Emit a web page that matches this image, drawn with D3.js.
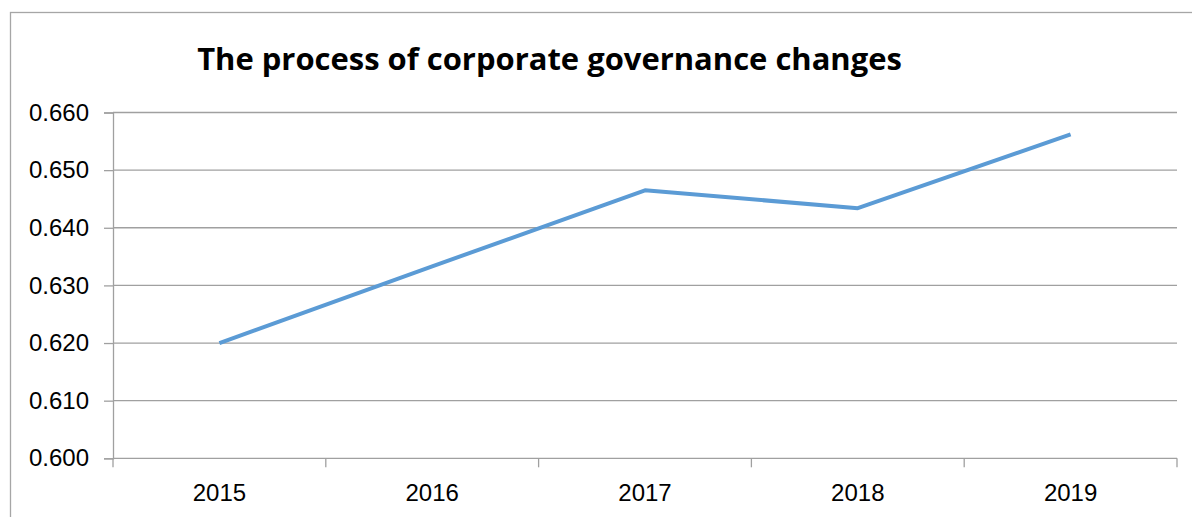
<!DOCTYPE html>
<html>
<head>
<meta charset="utf-8">
<script src="https://cdn.jsdelivr.net/npm/d3@7"></script>
<style>
  body { margin: 0; background: #fff; }
  svg { display: block; }
</style>
</head>
<body>
<svg width="1192" height="517"></svg>
<script>
var years = ['2015', '2016', '2017', '2018', '2019'];
var values = [0.620, 0.6333, 0.6465, 0.6434, 0.6562];
var yTicks = [0.600, 0.610, 0.620, 0.630, 0.640, 0.650, 0.660];
var title = 'The process of corporate governance changes';

var svg = d3.select('svg');
var W = 1192, H = 517;
var plot = {left: 113, right: 1177, top: 112.5, bottom: 458.3};

// chart frame
svg.append('rect')
    .attr('x', 10.5).attr('y', 12.5)
    .attr('width', W + 20).attr('height', H + 20)
    .attr('fill', 'none').attr('stroke', '#a6a6a6').attr('stroke-width', 1.3);

var x = d3.scaleBand().domain(years).range([plot.left, plot.right]).padding(0);
var y = d3.scaleLinear().domain([0.600, 0.660]).range([plot.bottom, plot.top]);

// gridlines
svg.append('g').selectAll('line').data(yTicks.slice(1)).enter().append('line')
    .attr('x1', plot.left).attr('x2', plot.right)
    .attr('y1', d => y(d)).attr('y2', d => y(d))
    .attr('stroke', '#a0a0a0').attr('stroke-width', 1.3);

// y axis
var yAxis = svg.append('g')
    .attr('transform', 'translate(' + plot.left + ',0)')
    .call(d3.axisLeft(y).tickValues(yTicks).tickFormat(d3.format('.3f')).tickSize(9).tickPadding(15));
yAxis.select('.domain').attr('stroke', '#a0a0a0').attr('stroke-width', 1.3);
yAxis.selectAll('.tick line').attr('stroke', '#a0a0a0').attr('stroke-width', 1.3);
yAxis.selectAll('.tick text')
    .attr('font-family', 'Liberation Sans, Arial, sans-serif')
    .attr('font-size', 24).attr('fill', '#000');

// x axis with ticks between categories
var xAxis = svg.append('g').attr('transform', 'translate(0,' + plot.bottom + ')');
xAxis.append('line')
    .attr('x1', plot.left).attr('x2', plot.right)
    .attr('stroke', '#a0a0a0').attr('stroke-width', 1.3);
var bounds = years.map(d => x(d)).concat([x(years[years.length - 1]) + x.bandwidth()]);
xAxis.selectAll('.xt').data(bounds).enter().append('line')
    .attr('class', 'xt')
    .attr('x1', d => d).attr('x2', d => d)
    .attr('y1', 0).attr('y2', 9)
    .attr('stroke', '#a0a0a0').attr('stroke-width', 1.3);
xAxis.selectAll('text').data(years).enter().append('text')
    .attr('x', d => x(d) + x.bandwidth() / 2)
    .attr('y', 42.5)
    .attr('text-anchor', 'middle')
    .attr('font-family', 'Liberation Sans, Arial, sans-serif')
    .attr('font-size', 24)
    .text(d => d);

// series line
var line = d3.line()
    .x((d, i) => x(years[i]) + x.bandwidth() / 2)
    .y(d => y(d));
svg.append('path')
    .datum(values)
    .attr('d', line)
    .attr('fill', 'none')
    .attr('stroke', '#5b9bd5')
    .attr('stroke-width', 4)
    .attr('stroke-linejoin', 'round');

// title, fitted to the reference width
var t = svg.append('text')
    .attr('x', 549.5).attr('y', 70)
    .attr('text-anchor', 'middle')
    .attr('font-family', 'Open Sans, sans-serif')
    .attr('font-weight', 'bold')
    .attr('font-size', 30)
    .text(title);
var len = t.node().getComputedTextLength();
t.attr('font-size', 30 * 705 / len);
</script>
</body>
</html>
